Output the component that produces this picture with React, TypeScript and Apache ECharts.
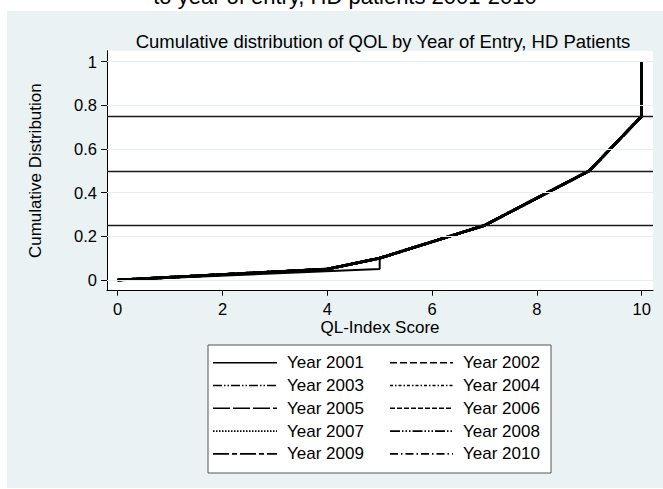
import React, { useEffect, useRef } from "react";
import * as echarts from "echarts";

const years = [
  "Year 2001", "Year 2002", "Year 2003", "Year 2004", "Year 2005",
  "Year 2006", "Year 2007", "Year 2008", "Year 2009", "Year 2010",
];
const xTicks = [0, 2, 4, 6, 8, 10];
const yTicks = [0, 0.2, 0.4, 0.6, 0.8, 1];
const refLines = [0.25, 0.5, 0.75];
// shared cumulative distribution (most years)
const scoreCommon = [0, 4, 5, 7, 9, 10, 10];
const cdfCommon = [0, 0.05, 0.1, 0.25, 0.5, 0.75, 1];
// Year 2001 curve (jump at 5)
const score2001 = [0, 5, 5, 7, 9, 10, 10];
const cdf2001 = [0, 0.05, 0.1, 0.25, 0.5, 0.75, 1];

const dashPatterns: (string | number[])[] = [
  "solid",
  [7, 3],
  [9, 2, 1.5, 2, 1.5, 2],
  [3, 2, 1.5, 2],
  [17, 3],
  [5, 2],
  [1.5, 1.5],
  [10, 2, 1.5, 2, 1.5, 2, 1.5, 2],
  [16, 3, 5, 3],
  [8, 3, 1.5, 3],
];

const FONT = "'Liberation Sans', Arial, Helvetica, sans-serif";

function zip(xs: number[], ys: number[]) {
  return xs.map((x, i) => [x, ys[i]]);
}

export default function App() {
  const ref = useRef<HTMLDivElement>(null);
  useEffect(() => {
    if (!ref.current) return;
    const chart = echarts.init(ref.current, undefined, { renderer: "svg" });

    const series: any[] = years.map((name, i) => ({
      type: "line",
      name,
      data: i === 0 ? zip(score2001, cdf2001) : zip(scoreCommon, cdfCommon),
      symbol: "none",
      z: 4,
      lineStyle: { color: "#000", width: i === 0 ? 2 : 2.7, type: dashPatterns[i] },
    }));
    series.push({
      type: "line",
      name: "grid",
      data: [],
      symbol: "none",
      z: 1,
      markLine: {
        silent: true,
        symbol: "none",
        label: { show: false },
        animation: false,
        data: [
          ...yTicks.map((v) => ({
            yAxis: v,
            lineStyle: { color: "#E4EDEF", width: 1, type: "solid" },
          })),
          ...refLines.map((v) => ({
            yAxis: v,
            lineStyle: { color: "#1a1a1a", width: 1.3, type: "solid" },
          })),
        ],
      },
    });

    const legendEls: any[] = [
      {
        type: "rect",
        shape: { x: 208, y: 345, width: 343, height: 128 },
        style: { fill: "#fff", stroke: "#555", lineWidth: 1 },
        z: 10,
      },
    ];
    years.forEach((name, i) => {
      const col = i % 2;
      const row = Math.floor(i / 2);
      const y = 362.7 + row * 22.8;
      const x1 = col === 0 ? 213 : 390;
      const x2 = col === 0 ? 277 : 453;
      const tx = col === 0 ? 287 : 463;
      const dash = dashPatterns[i];
      legendEls.push({
        type: "line",
        shape: { x1, y1: y, x2, y2: y },
        style: {
          stroke: "#000",
          lineWidth: 1.6,
          lineDash: dash === "solid" ? null : dash,
        },
        z: 11,
      });
      legendEls.push({
        type: "text",
        x: tx,
        y,
        style: {
          text: name,
          fill: "#000",
          font: `17px ${FONT}`,
          align: "left",
          verticalAlign: "middle",
        },
        z: 11,
      });
    });

    chart.setOption({
      animation: false,
      backgroundColor: "#fff",
      title: {
        text: "Cumulative distribution of QOL by Year of Entry, HD Patients",
        left: 378,
        top: 27,
        textAlign: "center",
        textStyle: { fontSize: 18.5, fontWeight: "normal", color: "#000", fontFamily: FONT },
      },
      grid: {
        left: 107,
        top: 50.7,
        width: 546,
        height: 240,
        show: true,
        backgroundColor: "#fff",
        borderWidth: 0,
        containLabel: false,
      },
      xAxis: {
        type: "value",
        min: -0.204,
        max: 10.216,
        name: "QL-Index Score",
        nameLocation: "middle",
        nameGap: 26,
        nameTextStyle: { fontSize: 17, color: "#000", fontFamily: FONT },
        axisLine: { show: true, onZero: false, lineStyle: { color: "#000", width: 1 } },
        axisTick: { show: true, customValues: xTicks, length: 5, lineStyle: { color: "#000" } },
        axisLabel: {
          customValues: xTicks,
          fontSize: 16.5,
          color: "#000",
          fontFamily: FONT,
          margin: 10,
          formatter: (v: number) => String(v),
        },
        splitLine: { show: false },
      },
      yAxis: {
        type: "value",
        min: -0.049,
        max: 1.05,
        name: "Cumulative Distribution",
        nameLocation: "middle",
        nameRotate: 90,
        nameGap: 63,
        nameTextStyle: { fontSize: 17, color: "#000", fontFamily: FONT },
        axisLine: { show: true, onZero: false, lineStyle: { color: "#000", width: 1 } },
        axisTick: { show: true, customValues: yTicks, length: 6, lineStyle: { color: "#000" } },
        axisLabel: {
          customValues: yTicks,
          fontSize: 16.5,
          color: "#000",
          fontFamily: FONT,
          margin: 10,
          formatter: (v: number) => String(v),
        },
        splitLine: { show: false },
      },
      graphic: [
        {
          type: "rect",
          shape: { x: 7, y: 11, width: 700, height: 477 },
          style: { fill: "#EAF2F3" },
          z: -100,
          silent: true,
        },
        {
          type: "text",
          x: 345,
          y: -4,
          style: {
            text: "to year of entry, HD patients 2001-2010",
            fill: "#000",
            font: `22px ${FONT}`,
            align: "center",
            verticalAlign: "middle",
          },
          z: 5,
        },
        ...legendEls,
      ],
      series,
    });
    return () => chart.dispose();
  }, []);
  return (
    <div
      ref={ref}
      style={{ position: "absolute", left: 0, top: 0, width: 663, height: 489 }}
    />
  );
}
